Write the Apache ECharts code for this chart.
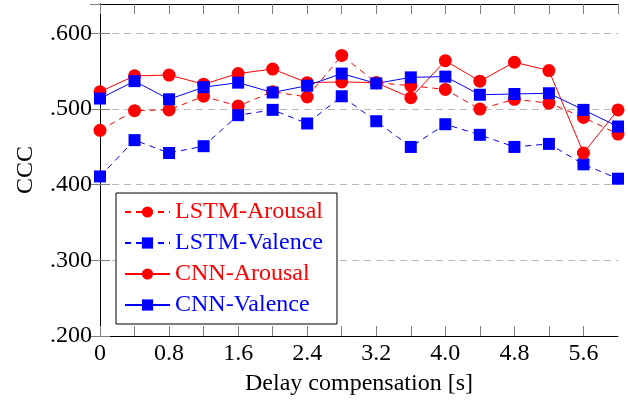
<!DOCTYPE html>
<html>
<head>
<meta charset="utf-8">
<script src="https://cdn.jsdelivr.net/npm/echarts@6/dist/echarts.min.js"></script>
<style>html,body{margin:0;padding:0;background:#fff}#c{width:628px;height:406px}</style>
</head>
<body>
<div id="c"></div>
<script>
var delays = [0, 0.4, 0.8, 1.2, 1.6, 2.0, 2.4, 2.8, 3.2, 3.6, 4.0, 4.4, 4.8, 5.2, 5.6, 6.0];
var lstmArousal = [0.472, 0.498, 0.499, 0.517, 0.504, 0.523, 0.516, 0.571, 0.535, 0.531, 0.526, 0.500, 0.513, 0.508, 0.489, 0.467];
var lstmValence = [0.411, 0.459, 0.442, 0.451, 0.492, 0.499, 0.481, 0.517, 0.484, 0.450, 0.480, 0.466, 0.450, 0.454, 0.427, 0.408];
var cnnArousal = [0.523, 0.544, 0.545, 0.533, 0.547, 0.553, 0.535, 0.536, 0.535, 0.515, 0.564, 0.537, 0.562, 0.551, 0.442, 0.499];
var cnnValence = [0.514, 0.537, 0.513, 0.529, 0.535, 0.522, 0.531, 0.547, 0.534, 0.542, 0.543, 0.519, 0.520, 0.521, 0.499, 0.477];
var seriesNames = ['LSTM-Arousal', 'LSTM-Valence', 'CNN-Arousal', 'CNN-Valence'];
var yTicks = [0.2, 0.3, 0.4, 0.5, 0.6];

var FONT = '"Liberation Serif", "DejaVu Serif", serif';
var RED = '#ff0000', BLUE = '#0000ff';
function pairs(ys) { return delays.map(function (x, i) { return [x, ys[i]]; }); }
function mk(name, ys, color, dashed, symbol) {
  return {
    name: name, type: 'line', data: pairs(ys), clip: false,
    symbol: symbol, symbolSize: symbol === 'rect' ? 12 : 13,
    showAllSymbol: true,
    lineStyle: { color: color, width: 1, type: dashed ? [6, 5] : 'solid' },
    itemStyle: { color: color },
    emphasis: { disabled: true }, animation: false
  };
}
var xLab = function (v) {
  var k = Math.round(v / 0.4);
  if (k % 2 !== 0) return '';
  return v === 0 ? '0' : v.toFixed(1);
};
var yLab = function (v) {
  for (var i = 0; i < yTicks.length; i++) {
    if (Math.abs(v - yTicks[i]) < 1e-6) return '.' + v.toFixed(3).split('.')[1];
  }
  return '';
};
var axisLineStyle = { show: true, lineStyle: { color: '#000', width: 1 } };
var tickStyle = { show: true, inside: true, length: 10, lineStyle: { color: '#808080', width: 1 } };
var chart = echarts.init(document.getElementById('c'), null, { renderer: 'canvas' });
chart.setOption({
  animation: false,
  grid: { left: 100, right: 10, top: 4, bottom: 70, containLabel: false },
  xAxis: [{
    type: 'value', min: 0, max: 6, interval: 0.4, position: 'bottom',
    name: 'Delay compensation [s]', nameLocation: 'middle', nameGap: 36,
    nameTextStyle: { fontFamily: FONT, fontSize: 24, color: '#000' },
    axisLine: axisLineStyle, axisTick: tickStyle,
    axisLabel: { formatter: xLab, fontFamily: FONT, fontSize: 24, color: '#000', margin: 6, showMinLabel: true, showMaxLabel: false },
    splitLine: { show: false }
  }, {
    type: 'value', min: 0, max: 6, interval: 0.4, position: 'top',
    axisLine: axisLineStyle, axisTick: tickStyle, axisLabel: { show: false }, splitLine: { show: false }
  }],
  yAxis: [{
    type: 'value', min: 0.2, max: 0.639, interval: 0.1, position: 'left',
    name: 'CCC', nameLocation: 'middle', nameGap: 62, nameRotate: 90,
    nameTextStyle: { fontFamily: FONT, fontSize: 24, color: '#000' },
    axisLine: axisLineStyle, axisTick: tickStyle,
    axisLabel: { formatter: yLab, fontFamily: FONT, fontSize: 24, color: '#000', margin: 8, showMaxLabel: false },
    splitLine: { show: true, lineStyle: { color: '#b8b8b8', width: 1, type: [7, 5] } }
  }, {
    type: 'value', min: 0.2, max: 0.639, interval: 0.1, position: 'right',
    axisLine: axisLineStyle, axisTick: tickStyle, axisLabel: { show: false }, splitLine: { show: false }
  }],
  legend: {
    orient: 'vertical', left: 116, top: 193,
    backgroundColor: '#fff', borderColor: '#000', borderWidth: 1,
    padding: [7, 14, 7, 8], itemGap: 7, itemWidth: 45, itemHeight: 14,
    selectedMode: false,
    textStyle: { fontFamily: FONT, fontSize: 24 },
    data: [
      { name: seriesNames[0], textStyle: { color: RED } },
      { name: seriesNames[1], textStyle: { color: BLUE } },
      { name: seriesNames[2], textStyle: { color: RED } },
      { name: seriesNames[3], textStyle: { color: BLUE } }
    ]
  },
  series: [
    mk(seriesNames[0], lstmArousal, RED, true, 'circle'),
    mk(seriesNames[1], lstmValence, BLUE, true, 'rect'),
    mk(seriesNames[2], cnnArousal, RED, false, 'circle'),
    mk(seriesNames[3], cnnValence, BLUE, false, 'rect')
  ]
});
</script>
</body>
</html>
